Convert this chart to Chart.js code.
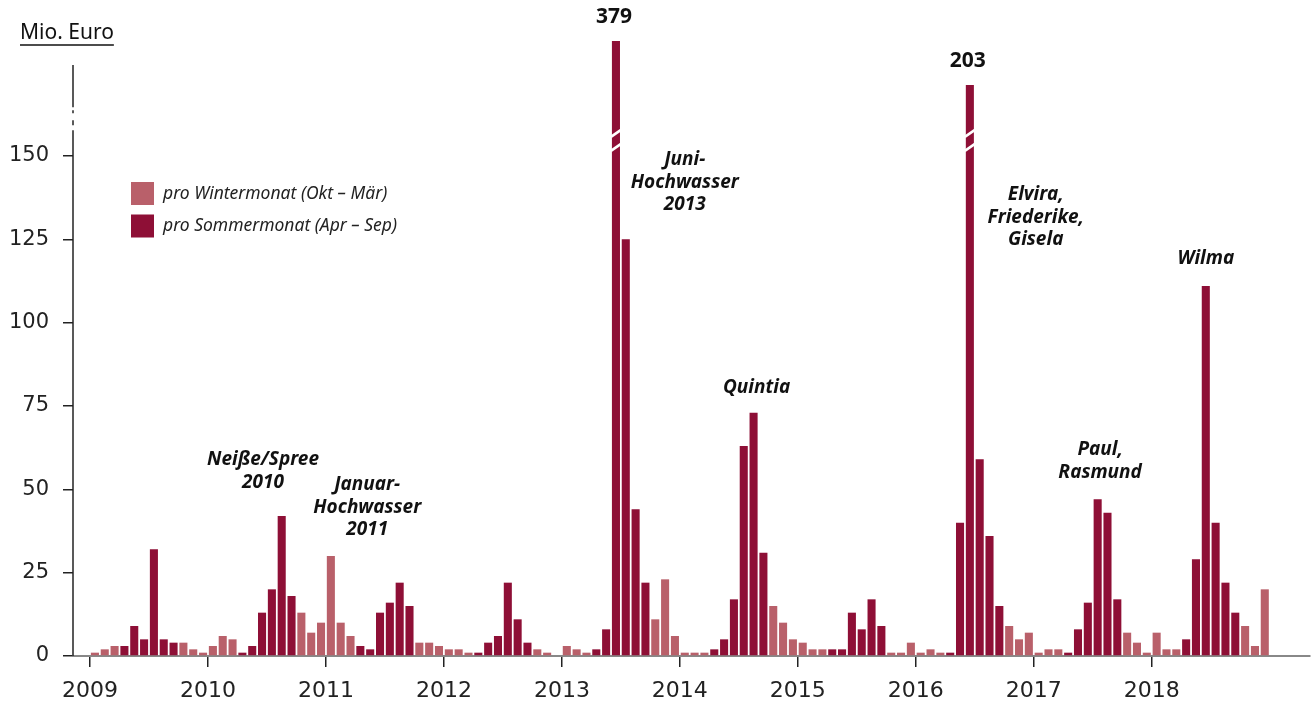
<!DOCTYPE html>
<html lang="de">
<head>
<meta charset="utf-8">
<title>Schäden pro Monat 2009–2018</title>
<script src="https://cdn.jsdelivr.net/npm/chart.js@4.4.1/dist/chart.umd.min.js"></script>
<style>
  html, body { margin: 0; padding: 0; background: #fff; }
  #wrap { width: 1314px; height: 704px; }
</style>
</head>
<body>
<div id="wrap"><canvas id="myChart"></canvas></div>
<script>
// Schäden in Mio. Euro je Monat (Jan bis Dez)
const jahre = [2009, 2010, 2011, 2012, 2013, 2014, 2015, 2016, 2017, 2018];
const werte2009 = [1, 2, 3, 3, 9, 5, 32, 5, 4, 4, 2, 1];
const werte2010 = [3, 6, 5, 1, 3, 13, 20, 42, 18, 13, 7, 10];
const werte2011 = [30, 10, 6, 3, 2, 13, 16, 22, 15, 4, 4, 3];
const werte2012 = [2, 2, 1, 1, 4, 6, 22, 11, 4, 2, 1, 0];
const werte2013 = [3, 2, 1, 2, 8, 379, 125, 44, 22, 11, 23, 6];
const werte2014 = [1, 1, 1, 2, 5, 17, 63, 73, 31, 15, 10, 5];
const werte2015 = [4, 2, 2, 2, 2, 13, 8, 17, 9, 1, 1, 4];
const werte2016 = [1, 2, 1, 1, 40, 203, 59, 36, 15, 9, 5, 7];
const werte2017 = [1, 2, 2, 1, 8, 16, 47, 43, 17, 7, 4, 1];
const werte2018 = [7, 2, 2, 5, 29, 111, 40, 22, 13, 9, 3, 20];
const yTicks = [0, 25, 50, 75, 100, 125, 150];

// Sommermonate April bis September (Index im Jahr)
const sommerMonate = [3, 4, 5, 6, 7, 8];

const serienNamen = ['pro Wintermonat (Okt – Mär)', 'pro Sommermonat (Apr – Sep)'];

// Ereignisse: Monat (ab Jan 2009), Höhe in Mio. Euro, Textzeilen
const ereignisse = [
  { m: 17.6, v: 58.8, zeilen: ['Neiße/Spree', '2010'] },
  { m: 28.2, v: 51.3, zeilen: ['Januar-', 'Hochwasser', '2011'] },
  { m: 60.5, v: 148.8, zeilen: ['Juni-', 'Hochwasser', '2013'] },
  { m: 67.8, v: 80.4, zeilen: ['Quintia'] },
  { m: 96.2, v: 138.3, zeilen: ['Elvira,', 'Friederike,', 'Gisela'] },
  { m: 102.75, v: 61.8, zeilen: ['Paul,', 'Rasmund'] },
  { m: 113.5, v: 119.1, zeilen: ['Wilma'] }
];

const alleWerte = [werte2009, werte2010, werte2011, werte2012, werte2013,
  werte2014, werte2015, werte2016, werte2017, werte2018];

const FARBE_WINTER = '#b9606a';
const FARBE_SOMMER = '#8e0f36';
const SCHRIFT = '"Noto Sans", sans-serif';
const ACHSENSCHRIFT = '"DejaVu Sans", sans-serif';

// Oberhalb des Achsenbruchs werden die Balken gestaucht gezeichnet
const BRUCH = 160;
function hoehe(v) {
  return v <= BRUCH ? v : 156.1 + v * 0.075;
}

const winterDaten = [];
const sommerDaten = [];
alleWerte.forEach((jahr, j) => {
  jahr.forEach((v, i) => {
    const punkt = { x: j * 12 + i + 0.5, y: hoehe(v), wert: v };
    if (sommerMonate.includes(i)) sommerDaten.push(punkt);
    else winterDaten.push(punkt);
  });
});

const zeichnen = {
  id: 'zeichnen',
  afterDraw(chart) {
    const ctx = chart.ctx;
    const x = chart.scales.x;
    const y = chart.scales.y;
    const area = chart.chartArea;
    ctx.save();

    // y-Achse mit Unterbrechung
    const bruchY = y.getPixelForValue(155);
    ctx.strokeStyle = '#222';
    ctx.lineWidth = 1.5;
    const linie = (a, b) => {
      ctx.beginPath();
      ctx.moveTo(area.left, a);
      ctx.lineTo(area.left, b);
      ctx.stroke();
    };
    linie(area.bottom, bruchY - 9);
    linie(bruchY - 14, bruchY - 19);
    linie(bruchY - 26, bruchY - 29);
    linie(bruchY - 32, area.top + 24);

    // Bruchstriche in den hohen Balken + Wertangabe
    chart.data.datasets.forEach((ds, di) => {
      const meta = chart.getDatasetMeta(di);
      meta.data.forEach((bar, bi) => {
        const wert = ds.data[bi].wert;
        if (wert <= BRUCH) return;
        const l = bar.x - bar.width / 2 - 1;
        const r = bar.x + bar.width / 2 + 1;
        ctx.strokeStyle = '#fff';
        ctx.lineWidth = 2.6;
        [bruchY - 6, bruchY + 8].forEach(s => {
          ctx.beginPath();
          ctx.moveTo(l, s + 3.5);
          ctx.lineTo(r, s - 3.5);
          ctx.stroke();
        });
        ctx.fillStyle = '#111';
        ctx.font = 'bold 21px ' + SCHRIFT;
        ctx.textAlign = 'center';
        ctx.textBaseline = 'middle';
        ctx.fillText(String(wert), bar.x - 2, bar.y - 24);
      });
    });

    // Einheit oben links
    ctx.fillStyle = '#111';
    ctx.font = '21px ' + SCHRIFT;
    ctx.textAlign = 'left';
    ctx.textBaseline = 'middle';
    ctx.fillText('Mio. Euro', 20, 33);
    const breite = ctx.measureText('Mio. Euro').width;
    ctx.strokeStyle = '#111';
    ctx.lineWidth = 1.5;
    ctx.beginPath();
    ctx.moveTo(20, 45);
    ctx.lineTo(20 + breite, 45);
    ctx.stroke();

    // Legende
    const farben = [FARBE_WINTER, FARBE_SOMMER];
    ctx.font = 'italic 17.5px ' + SCHRIFT;
    serienNamen.forEach((name, i) => {
      const top = 182 + i * 32.5;
      ctx.fillStyle = farben[i];
      ctx.fillRect(131, top, 23, 23);
      ctx.fillStyle = '#222';
      ctx.fillText(name, 163, top + 12);
    });

    // Ereignisnamen
    ctx.fillStyle = '#111';
    ctx.font = 'italic bold 19px ' + SCHRIFT;
    ctx.textAlign = 'center';
    ereignisse.forEach(e => {
      const px = x.getPixelForValue(e.m);
      const py = y.getPixelForValue(e.v);
      e.zeilen.forEach((z, i) => ctx.fillText(z, px, py + i * 22.5));
    });

    ctx.restore();
  }
};

const ctx = document.getElementById('myChart').getContext('2d');
const chart = new Chart(ctx, {
  type: 'bar',
  data: {
    datasets: [{
      label: serienNamen[0],
      data: winterDaten,
      backgroundColor: FARBE_WINTER
    }, {
      label: serienNamen[1],
      data: sommerDaten,
      backgroundColor: FARBE_SOMMER
    }]
  },
  options: {
    responsive: true,
    maintainAspectRatio: false,
    animation: false,
    layout: { padding: { top: 41, right: 4, left: 0, bottom: 0 } },
    datasets: {
      bar: { grouped: false, barPercentage: 0.82, categoryPercentage: 1 }
    },
    plugins: {
      legend: { display: false },
      tooltip: { enabled: false }
    },
    scales: {
      x: {
        type: 'linear',
        offset: false,
        min: -1.73,
        max: 124.1,
        afterFit: s => { s.height = 48; },
        afterBuildTicks: s => { s.ticks = jahre.map((j, i) => ({ value: i * 12 })); },
        grid: { offset: false, drawOnChartArea: false, drawTicks: true, tickLength: 11, color: '#222', lineWidth: 1.5 },
        border: { display: true, color: '#888', width: 2 },
        ticks: {
          padding: 11,
          color: '#222',
          font: { family: ACHSENSCHRIFT, size: 22 },
          maxRotation: 0,
          callback: v => jahre[Math.round(v / 12)]
        }
      },
      y: {
        min: 0,
        max: 184.5,
        afterFit: s => { s.width = 73; },
        afterBuildTicks: s => { s.ticks = yTicks.map(v => ({ value: v })); },
        grid: { drawOnChartArea: false, drawTicks: true, tickLength: 10, color: '#222', lineWidth: 1.5 },
        border: { display: false },
        ticks: {
          padding: 14,
          color: '#222',
          font: { family: ACHSENSCHRIFT, size: 21 }
        }
      }
    }
  },
  plugins: [zeichnen]
});
</script>
</body>
</html>
